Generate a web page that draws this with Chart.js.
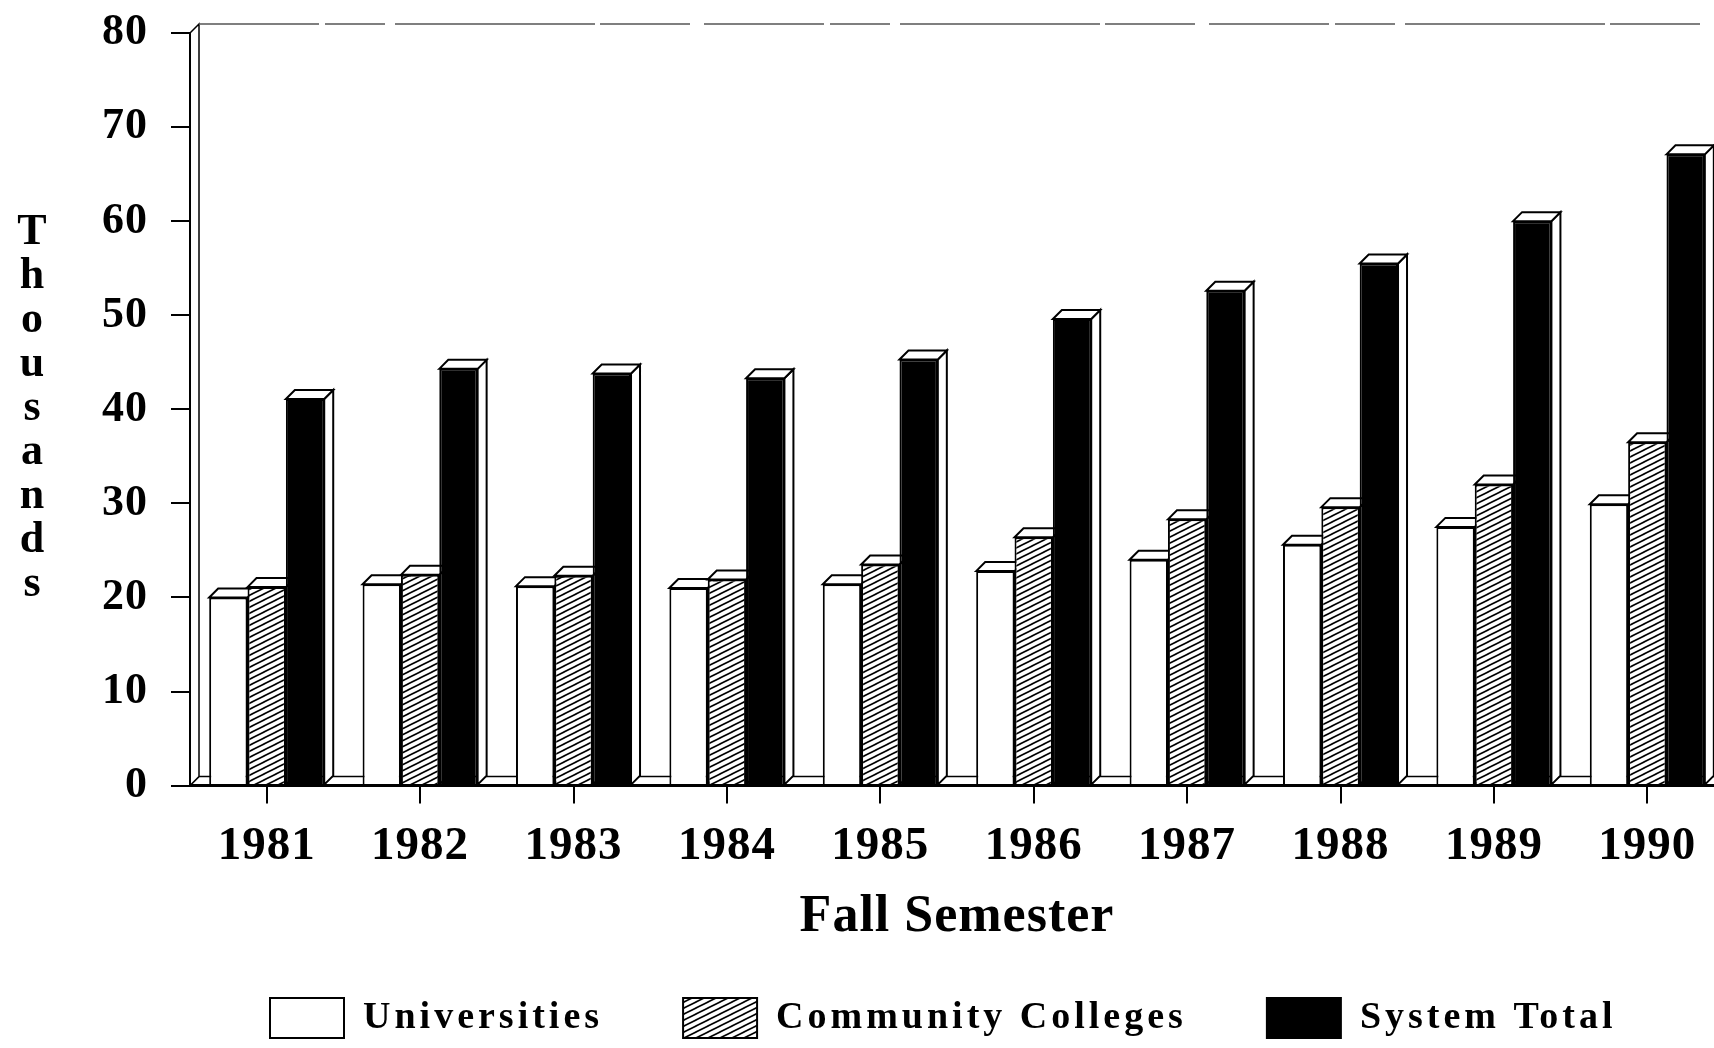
<!DOCTYPE html>
<html>
<head>
<meta charset="utf-8">
<title>Enrollment by Fall Semester</title>
<script src="https://cdn.jsdelivr.net/npm/chart.js@4.4.0/dist/chart.umd.min.js"></script>
<style>
  html, body { margin: 0; padding: 0; background: #fff; overflow: hidden; }
  #wrap { position: relative; width: 1740px; height: 1048px; }
</style>
</head>
<body>
<div id="wrap"><canvas id="enrollChart"></canvas></div>
<script>
// Values in thousands
const years = ['1981', '1982', '1983', '1984', '1985', '1986', '1987', '1988', '1989', '1990'];
const universities = [20.0, 21.4, 21.2, 21.0, 21.4, 22.8, 24.0, 25.6, 27.5, 29.9];
const communityColleges = [21.1, 22.4, 22.3, 21.9, 23.5, 26.4, 28.3, 29.6, 32.0, 36.5];
const systemTotal = [41.1, 44.3, 43.8, 43.3, 45.3, 49.6, 52.6, 55.5, 60.0, 67.1];
const yMax = 80;
const yStep = 10;
const xTitle = 'Fall Semester';
const yTitle = 'Thousands';

const SERIF = "'Liberation Serif', 'Times New Roman', serif";
const DEPTH = 9;

/**
 * Diagonal hatch used for the community college bars
 */
function makeHatch() {
    const c = document.createElement('canvas');
    c.width = 12;
    c.height = 6;
    const g = c.getContext('2d');
    g.fillStyle = '#fff';
    g.fillRect(0, 0, 12, 6);
    g.strokeStyle = '#000';
    g.lineWidth = 1.6;
    // same line shifted one tile up/down so the seams stay solid
    [-6, 0, 6].forEach(dy => {
        g.beginPath();
        g.moveTo(-12, 12 + dy);
        g.lineTo(24, -6 + dy);
        g.stroke();
    });
    return g.createPattern(c, 'repeat');
}

/**
 * Fake 3D: back wall, floor, and top/side faces of each bar.
 * Also swaps letter spacing between the legend and the axis labels.
 */
const depthPlugin = {
    id: 'depth',
    beforeLayout(chart) {
        chart.ctx.letterSpacing = '4px';
    },
    beforeDraw(chart) {
        chart.ctx.letterSpacing = '4px';
    },
    beforeDatasetsDraw(chart) {
        const ctx = chart.ctx;
        const a = chart.chartArea;
        ctx.save();

        // wall and floor
        ctx.strokeStyle = '#000';
        ctx.lineWidth = 1.5;
        ctx.beginPath();
        ctx.moveTo(a.left, a.top);
        ctx.lineTo(a.left + DEPTH, a.top - DEPTH);
        ctx.lineTo(a.left + DEPTH, a.bottom - DEPTH);
        ctx.lineTo(a.right, a.bottom - DEPTH);
        ctx.moveTo(a.left, a.bottom);
        ctx.lineTo(a.left + DEPTH, a.bottom - DEPTH);
        ctx.stroke();

        // faded top edge of the wall
        ctx.strokeStyle = '#555';
        ctx.setLineDash([120, 6, 60, 10, 200, 5, 90, 14]);
        ctx.beginPath();
        ctx.moveTo(a.left + DEPTH, a.top - DEPTH);
        ctx.lineTo(a.right, a.top - DEPTH);
        ctx.stroke();
        ctx.setLineDash([]);

        ctx.fillStyle = '#fff';
        ctx.strokeStyle = '#000';
        ctx.lineWidth = 2;
        chart.data.datasets.forEach((ds, i) => {
            chart.getDatasetMeta(i).data.forEach(bar => {
                const l = bar.x - bar.width / 2;
                const r = bar.x + bar.width / 2;
                const t = bar.y;
                const b = bar.base;

                // side face
                ctx.beginPath();
                ctx.moveTo(r, t);
                ctx.lineTo(r + DEPTH, t - DEPTH);
                ctx.lineTo(r + DEPTH, b - DEPTH);
                ctx.lineTo(r, b);
                ctx.closePath();
                ctx.fill();
                ctx.stroke();

                // top face
                ctx.beginPath();
                ctx.moveTo(l, t);
                ctx.lineTo(l + DEPTH, t - DEPTH);
                ctx.lineTo(r + DEPTH, t - DEPTH);
                ctx.lineTo(r, t);
                ctx.closePath();
                ctx.fill();
                ctx.stroke();
            });
        });
        ctx.restore();
    },
    afterDatasetsDraw(chart) {
        chart.ctx.letterSpacing = '1px';
    },
    afterDraw(chart) {
        // y title, one upright letter per line
        const ctx = chart.ctx;
        const a = chart.chartArea;
        const lineH = 44;
        const letters = yTitle.split('');
        const midY = (a.top + a.bottom) / 2;
        const first = midY - (letters.length - 1) / 2 * lineH + 11;
        ctx.save();
        ctx.letterSpacing = '0px';
        ctx.font = 'bold 44px ' + SERIF;
        ctx.fillStyle = '#000';
        ctx.textAlign = 'center';
        ctx.textBaseline = 'alphabetic';
        letters.forEach((ch, i) => ctx.fillText(ch, 32, first + i * lineH));
        ctx.restore();
    }
};

const hatch = makeHatch();
const ctx = document.getElementById('enrollChart').getContext('2d');

new Chart(ctx, {
    type: 'bar',
    data: {
        labels: years,
        datasets: [
            {
                label: 'Universities',
                data: universities,
                backgroundColor: '#fff',
                borderColor: '#000',
                borderWidth: 2
            },
            {
                label: 'Community Colleges',
                data: communityColleges,
                backgroundColor: hatch,
                borderColor: '#000',
                borderWidth: 2
            },
            {
                label: 'System Total',
                data: systemTotal,
                backgroundColor: '#000',
                borderColor: '#000',
                borderWidth: 2
            }
        ]
    },
    options: {
        responsive: true,
        maintainAspectRatio: false,
        animation: false,
        events: [],
        layout: {
            padding: { top: 33, right: 16, bottom: 0, left: 0 }
        },
        datasets: {
            bar: {
                categoryPercentage: 0.75,
                barPercentage: 1.0
            }
        },
        plugins: {
            tooltip: { enabled: false },
            legend: {
                position: 'bottom',
                align: 'start',
                fullSize: false,
                labels: {
                    boxWidth: 74,
                    boxHeight: 40,
                    padding: 80,
                    color: '#000',
                    font: { family: SERIF, size: 38, weight: 'bold' }
                }
            }
        },
        scales: {
            x: {
                grid: {
                    display: true,
                    offset: false,
                    drawOnChartArea: false,
                    drawTicks: true,
                    tickLength: 18,
                    color: '#000',
                    lineWidth: 2,
                    z: 1
                },
                border: { display: true, color: '#000', width: 3, z: 1 },
                ticks: {
                    color: '#000',
                    font: { family: SERIF, size: 47, weight: 'bold' },
                    padding: 15,
                    maxRotation: 0,
                    autoSkip: false,
                    z: 1
                },
                title: {
                    display: true,
                    text: xTitle,
                    color: '#000',
                    font: { family: SERIF, size: 52, weight: 'bold', lineHeight: 1 },
                    padding: { top: 2, bottom: -26 }
                }
            },
            y: {
                min: 0,
                max: yMax,
                grid: {
                    drawOnChartArea: false,
                    drawTicks: true,
                    tickLength: 19,
                    color: '#000',
                    lineWidth: 2
                },
                border: { display: true, color: '#000', width: 2 },
                ticks: {
                    stepSize: yStep,
                    color: '#000',
                    font: { family: SERIF, size: 44, weight: 'bold', lineHeight: 0.45 },
                    padding: 23,
                    z: 1
                },
                afterFit(scale) {
                    scale.width = 190;
                }
            }
        }
    },
    plugins: [depthPlugin]
});
</script>
</body>
</html>
